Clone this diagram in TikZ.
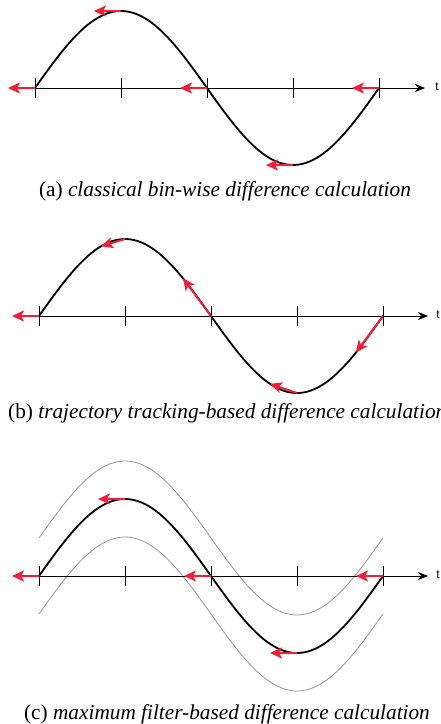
\documentclass[tikz,border=0pt]{standalone}
\usepackage{fontspec}
\setmainfont{Liberation Serif}
\newfontfamily\tfont{Liberation Sans}
\usetikzlibrary{arrows.meta}
\definecolor{redarrow}{RGB}{240,30,55}
\definecolor{graycurve}{RGB}{150,150,150}
\tikzset{
  axisline/.style={line width=0.8pt,-{Stealth[length=10pt,width=8pt]}},
  tickmark/.style={line width=0.8pt},
  wave/.style={line width=1.8pt, line cap=round, line join=round},
  band/.style={line width=0.8pt, graycurve},
  diffarrow/.style={line width=2pt, redarrow, -{Stealth[length=12pt,width=11pt,inset=3pt]}},
  caption/.style={font=\fontsize{21.3}{24}\selectfont, inner sep=0pt},
  tlabel/.style={font=\tfont\fontsize{12}{14}\selectfont, inner sep=0pt}
}
\begin{document}
\begin{tikzpicture}[x=1pt,y=-1pt]
\useasboundingbox (0,0) rectangle (441,724);
\clip (0,0) rectangle (441,724);

% ===== (a) =====
\coordinate (a0) at (35,88);
\coordinate (a1) at (121,88);
\coordinate (a2) at (207,88);
\coordinate (a3) at (293,88);
\coordinate (a4) at (379,88);
\coordinate (aend) at (425,88);
\draw[axisline] (a0) -- (aend);
\node[tlabel, anchor=center] (at) at (437,87) {t};
\foreach \n in {a0,a1,a2,a3,a4}{
  \draw[tickmark] ([yshift=-10pt]\n) -- ([yshift=10pt]\n);
}
\draw[wave] plot[domain=35:379, samples=120, smooth] (\x,{88-77*sin((\x-35)/344*360)});
\coordinate (apk) at (121,11);
\coordinate (atr) at (293,165);
\coordinate (a0l) at (8,88);
\coordinate (apkl) at (94,11);
\coordinate (a2l) at (180,88);
\coordinate (atrl) at (266,165);
\coordinate (a4l) at (352,88);
\draw[diffarrow] (a0) -- (a0l);
\draw[diffarrow] (apk) -- (apkl);
\draw[diffarrow] (a2) -- (a2l);
\draw[diffarrow] (atr) -- (atrl);
\draw[diffarrow] (a4) -- (a4l);
\node[caption] (capa) at (225,191) {(a) \textit{classical bin-wise difference calculation}};

% ===== (b) =====
\coordinate (b0) at (39,316);
\coordinate (b1) at (125,316);
\coordinate (b2) at (211,316);
\coordinate (b3) at (297,316);
\coordinate (b4) at (383,316);
\coordinate (bend) at (428,316);
\draw[axisline] (b0) -- (bend);
\node[tlabel, anchor=center] (bt) at (438,315) {t};
\foreach \n in {b0,b1,b2,b3,b4}{
  \draw[tickmark] ([yshift=-10pt]\n) -- ([yshift=10pt]\n);
}
\draw[wave] plot[domain=39:383, samples=120, smooth] (\x,{316-77*sin((\x-39)/344*360)});
\coordinate (bpk) at (125,239);
\coordinate (btr) at (297,393);
\coordinate (b0l) at (12,316);
\coordinate (bpkl) at ({101},{316-77*sin((101-39)/344*360)});
\coordinate (b2l) at ({183},{316-77*sin((183-39)/344*360)});
\coordinate (btrl) at ({270},{316-77*sin((270-39)/344*360)});
\coordinate (b4l) at ({356},{316-77*sin((356-39)/344*360)});
\draw[diffarrow] (b0) -- (b0l);
\draw[diffarrow] (bpk) -- (bpkl);
\draw[diffarrow] (b2) -- (b2l);
\draw[diffarrow] (btr) -- (btrl);
\draw[diffarrow] (b4) -- (b4l);
\node[caption, anchor=west] (capb) at (8,413) {(b) \textit{trajectory tracking-based difference calculation}};

% ===== (c) =====
\coordinate (c0) at (39,576);
\coordinate (c1) at (125,576);
\coordinate (c2) at (211,576);
\coordinate (c3) at (297,576);
\coordinate (c4) at (383,576);
\coordinate (cend) at (428,576);
\draw[band] plot[domain=39:383, samples=120, smooth] (\x,{538-77*sin((\x-39)/344*360)});
\draw[band] plot[domain=39:383, samples=120, smooth] (\x,{614-77*sin((\x-39)/344*360)});
\draw[axisline] (c0) -- (cend);
\node[tlabel, anchor=center] (ct) at (438,575) {t};
\foreach \n in {c0,c1,c2,c3,c4}{
  \draw[tickmark] ([yshift=-10pt]\n) -- ([yshift=10pt]\n);
}
\draw[wave] plot[domain=39:383, samples=120, smooth] (\x,{576-77*sin((\x-39)/344*360)});
\coordinate (cpk) at (125,499);
\coordinate (ctr) at (297,653);
\coordinate (c0l) at (12,576);
\coordinate (cpkl) at (98,499);
\coordinate (c2l) at (184,576);
\coordinate (ctrl) at (270,653);
\coordinate (c4l) at (356,576);
\draw[diffarrow] (c0) -- (c0l);
\draw[diffarrow] (cpk) -- (cpkl);
\draw[diffarrow] (c2) -- (c2l);
\draw[diffarrow] (ctr) -- (ctrl);
\draw[diffarrow] (c4) -- (c4l);
\node[caption] (capc) at (227,714) {(c) \textit{maximum filter-based difference calculation}};
\end{tikzpicture}
\end{document}
